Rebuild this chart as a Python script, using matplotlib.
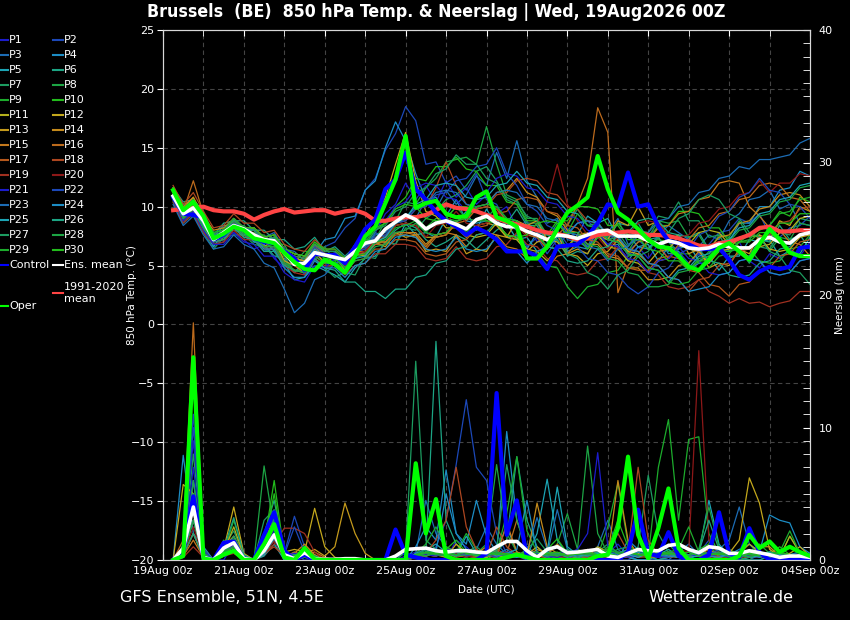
import numpy as np
import pandas as pd
import matplotlib
matplotlib.use('Agg')
import matplotlib.pyplot as plt
import matplotlib.dates as mdates
from matplotlib.lines import Line2D
from matplotlib.ticker import MultipleLocator, FixedLocator

# 6-hourly steps, 19Aug 06z .. 04Sep 00z
times = pd.date_range('2026-08-19 06:00', periods=64, freq='6h')
major_days = pd.date_range('2026-08-19', '2026-09-04', freq='2D')
all_days = pd.date_range('2026-08-19', '2026-09-04', freq='1D')

# ---- 850 hPa temperature (C) ----
oper_t = [11.4, 9.7, 10.4, 9.2, 7.3, 7.7, 8.3, 8.0,
          7.3, 7.1, 6.9, 6.1, 5.3, 4.7, 4.6, 5.5,
          5.1, 4.4, 5.8, 7.5, 8.3, 10.3, 12.3, 16.0,
          9.9, 10.3, 10.5, 9.4, 9.1, 9.2, 10.8, 11.3,
          9.1, 8.8, 8.3, 5.6, 5.6, 6.6, 8.1, 9.5,
          10.1, 10.8, 14.3, 11.5, 9.5, 8.9, 8.1, 7.2,
          6.6, 6.5, 5.8, 4.9, 4.6, 5.5, 6.5, 6.9,
          6.2, 5.5, 6.8, 8.1, 7.2, 6.1, 5.8, 5.8]
control_t = [10.8, 9.4, 9.3, 9.1, 7.2, 7.6, 8.4, 8.0,
             7.3, 7.0, 6.9, 6.2, 5.6, 4.6, 6.0, 5.9,
             5.9, 5.2, 6.6, 8.1, 8.9, 11.5, 12.3, 14.6,
             11.5, 10.6, 9.5, 8.8, 8.3, 7.6, 8.2, 7.8,
             7.2, 6.2, 6.2, 6.2, 5.8, 4.7, 6.6, 6.7,
             6.8, 7.5, 8.6, 10.2, 10.0, 12.9, 10.0, 10.2,
             8.3, 7.1, 6.9, 6.8, 6.4, 6.4, 6.5, 5.5,
             4.2, 3.8, 4.5, 4.9, 4.7, 4.9, 6.5, 6.6]
mean_t = [10.9, 9.4, 9.9, 8.8, 7.2, 7.8, 8.4, 8.1,
          7.6, 7.2, 7.1, 6.1, 5.1, 5.2, 6.1, 5.9,
          5.7, 5.5, 6.2, 6.9, 7.1, 8.1, 8.7, 9.3,
          8.9, 8.1, 8.6, 8.8, 8.5, 8.1, 8.9, 9.2,
          8.6, 8.3, 8.3, 7.9, 7.6, 7.2, 7.6, 7.5,
          7.3, 7.6, 7.9, 8.0, 7.5, 7.5, 7.5, 7.1,
          6.8, 7.1, 6.9, 6.5, 6.4, 6.5, 6.8, 6.6,
          6.5, 6.5, 7.2, 7.4, 7.0, 6.9, 7.6, 7.8]
clim_t = [9.7, 9.8, 9.9, 10.0, 9.7, 9.6, 9.6, 9.4,
          8.9, 9.3, 9.6, 9.8, 9.5, 9.6, 9.7, 9.7,
          9.4, 9.6, 9.7, 9.4, 8.8, 8.8, 9.0, 9.1,
          9.1, 9.3, 9.7, 10.2, 9.9, 9.8, 9.6, 9.3,
          9.0, 8.7, 8.5, 8.3, 8.0, 7.8, 7.7, 7.5,
          7.2, 7.3, 7.6, 7.7, 7.8, 7.9, 7.8, 7.6,
          7.6, 7.5, 7.3, 7.0, 6.7, 6.6, 6.9, 7.0,
          7.3, 7.6, 8.2, 8.3, 7.9, 7.9, 8.0, 8.0]

t_p01 = [11.2, 9.6, 10.6, 8.8, 6.6, 7.6, 7.8, 7.2, 6.4, 6.8, 5.6, 4.8, 5.4, 4.2, 5.6, 4.8,
         6.2, 5.4, 6.8, 6.0, 7.8, 9.4, 10.2, 12.0, 10.6, 11.8, 10.4, 12.2, 10.8, 11.6, 10.2, 11.0,
         9.4, 10.0, 8.2, 8.8, 7.0, 7.8, 6.6, 8.2, 7.2, 6.4, 7.6, 6.8, 7.4, 5.8, 6.6, 5.6,
         6.8, 5.6, 6.4, 7.4, 6.0, 5.2, 6.6, 6.2, 7.0, 5.4, 4.8, 6.0, 5.6, 6.4, 5.8, 7.0]
t_p02 = [11.0, 9.4, 10.2, 8.4, 6.8, 7.0, 8.4, 7.6, 7.2, 6.2, 6.6, 5.2, 5.0, 5.8, 5.4, 6.6,
         7.0, 8.2, 9.0, 11.4, 12.4, 14.8, 16.2, 18.5, 17.3, 13.6, 13.8, 12.0, 12.6, 11.4, 12.8, 10.6,
         10.2, 8.6, 8.0, 6.6, 7.4, 6.0, 7.2, 7.8, 8.6, 8.8, 8.0, 7.2, 7.6, 6.2, 7.0, 7.6,
         8.2, 7.0, 6.2, 5.2, 6.0, 6.8, 7.8, 8.0, 9.0, 8.6, 9.4, 7.6, 7.4, 8.2, 8.4, 9.2]
t_p03 = [10.6, 9.0, 9.8, 8.2, 7.6, 7.8, 9.0, 8.2, 8.2, 7.4, 7.8, 6.4, 6.2, 5.4, 6.6, 5.8,
         5.6, 4.8, 6.2, 6.6, 7.8, 7.4, 8.8, 9.4, 9.0, 10.6, 9.8, 11.4, 10.2, 11.0, 12.6, 11.8,
         14.6, 12.4, 15.6, 12.2, 10.8, 8.6, 9.0, 7.2, 7.0, 6.6, 8.4, 7.8, 9.0, 6.8, 7.2, 6.4,
         7.6, 8.4, 7.8, 7.2, 6.6, 7.6, 7.2, 8.8, 9.4, 10.6, 10.8, 11.4, 9.8, 10.2, 8.6, 8.4]
t_p04 = [11.4, 10.2, 10.4, 9.4, 7.4, 8.4, 8.4, 8.2, 7.0, 6.8, 5.8, 5.6, 4.4, 5.4, 6.0, 7.2,
         7.4, 9.0, 9.2, 11.4, 12.2, 15.0, 17.2, 15.6, 12.8, 10.6, 10.8, 9.2, 10.6, 8.8, 8.6, 8.8,
         9.0, 7.4, 7.6, 6.4, 7.8, 7.6, 8.0, 6.2, 6.6, 6.4, 8.0, 6.6, 6.8, 5.4, 6.6, 6.4,
         7.4, 6.0, 6.2, 4.6, 5.2, 5.2, 6.8, 7.0, 8.6, 8.6, 10.0, 10.0, 11.4, 11.6, 13.0, 12.6]
t_p05 = [10.8, 8.8, 9.6, 8.0, 6.6, 7.8, 8.0, 7.8, 7.0, 7.2, 6.2, 5.2, 3.8, 4.0, 5.0, 4.6,
         4.2, 3.6, 4.8, 5.6, 5.8, 7.0, 6.8, 8.6, 7.6, 7.8, 7.4, 9.0, 8.6, 9.6, 8.0, 9.8,
         8.4, 8.6, 7.2, 7.4, 6.2, 6.6, 6.4, 7.8, 7.6, 9.2, 8.6, 9.0, 7.4, 7.6, 6.6, 6.8,
         5.4, 6.6, 6.4, 6.8, 5.4, 5.8, 4.6, 5.8, 5.8, 7.2, 7.0, 7.2, 5.8, 6.2, 6.0, 7.4]
t_p06 = [11.6, 10.4, 10.6, 9.6, 7.6, 8.6, 8.8, 8.8, 8.0, 8.0, 7.2, 7.2, 6.4, 6.6, 7.4, 6.2,
         6.6, 5.8, 6.6, 5.8, 6.8, 7.2, 8.0, 8.6, 8.2, 7.2, 6.6, 7.0, 7.6, 7.2, 6.4, 7.2,
         8.0, 8.6, 9.8, 8.4, 8.4, 7.0, 7.2, 5.8, 6.2, 6.0, 7.4, 7.2, 8.6, 8.4, 8.6, 7.2,
         7.4, 6.2, 7.6, 7.4, 7.8, 6.4, 6.8, 5.6, 6.0, 5.8, 7.2, 7.0, 8.4, 7.2, 7.6, 6.4]
t_p07 = [10.4, 8.6, 9.4, 7.8, 6.4, 7.4, 7.6, 7.6, 6.8, 6.6, 5.8, 5.8, 4.4, 5.2, 5.4, 4.8,
         4.0, 4.4, 4.2, 5.8, 5.6, 7.0, 6.8, 8.2, 8.0, 9.0, 9.6, 10.6, 11.0, 11.8, 13.0, 13.4,
         12.2, 10.6, 10.2, 8.6, 8.6, 7.2, 8.6, 8.4, 9.8, 8.4, 8.6, 7.4, 7.8, 6.6, 8.0, 7.8,
         9.2, 9.0, 10.4, 8.8, 8.8, 7.4, 7.6, 6.2, 6.4, 5.2, 6.6, 6.4, 7.8, 7.6, 9.0, 8.8]
t_p08 = [11.0, 9.8, 9.8, 9.2, 7.2, 8.2, 8.4, 8.4, 7.6, 7.6, 6.8, 6.8, 5.2, 6.2, 6.2, 6.6,
         5.4, 5.8, 5.6, 7.2, 7.2, 8.8, 8.8, 10.4, 10.2, 11.6, 12.4, 13.8, 14.0, 14.2, 13.6, 16.8,
         13.6, 11.0, 10.6, 9.0, 9.0, 7.6, 7.8, 6.4, 7.6, 7.4, 8.8, 7.2, 7.4, 6.2, 7.6, 7.4,
         8.8, 8.6, 8.8, 7.4, 7.6, 6.2, 7.6, 7.4, 8.8, 7.4, 7.6, 6.2, 7.4, 7.2, 8.6, 8.4]
t_p09 = [10.6, 9.0, 9.8, 8.4, 7.2, 7.4, 8.4, 7.6, 7.4, 6.6, 6.8, 5.4, 4.6, 4.6, 6.0, 5.4,
         5.4, 4.6, 5.6, 6.0, 7.0, 7.4, 8.8, 9.2, 9.2, 8.2, 9.0, 9.0, 8.8, 7.8, 8.8, 8.8,
         8.6, 7.4, 7.2, 6.2, 6.0, 5.0, 4.8, 3.2, 2.2, 3.2, 3.4, 4.4, 4.6, 5.8, 6.0, 7.0,
         7.2, 7.0, 6.0, 6.0, 5.2, 6.2, 6.4, 7.4, 6.6, 6.4, 5.4, 5.2, 5.4, 6.4, 6.6, 7.6]
t_p10 = [11.2, 9.6, 10.6, 9.0, 7.8, 8.0, 9.0, 8.2, 8.2, 7.4, 7.6, 6.4, 6.0, 5.8, 7.0, 6.2,
         6.2, 5.4, 6.4, 6.8, 8.0, 8.6, 10.0, 10.8, 12.4, 12.2, 13.4, 13.4, 14.2, 13.2, 13.0, 11.8,
         11.8, 10.4, 10.2, 8.8, 8.8, 7.6, 8.8, 8.8, 10.0, 10.0, 9.8, 8.4, 8.4, 7.2, 7.2, 7.2,
         8.4, 8.4, 9.6, 9.6, 9.4, 8.2, 8.2, 7.0, 7.0, 7.6, 8.0, 8.4, 9.6, 9.2, 10.8, 10.4]
t_p11 = [11.0, 9.2, 10.0, 8.4, 7.4, 7.6, 8.6, 7.8, 7.8, 7.0, 7.2, 6.0, 5.6, 5.4, 6.6, 6.0,
         6.0, 5.2, 6.0, 6.2, 7.2, 7.4, 8.4, 8.6, 8.4, 7.4, 7.4, 7.6, 8.6, 7.6, 7.4, 7.6,
         8.6, 7.6, 7.4, 6.4, 6.2, 5.4, 6.4, 6.6, 7.6, 7.8, 7.6, 6.6, 6.4, 5.4, 5.2, 4.4,
         5.4, 5.6, 6.6, 6.8, 7.8, 8.0, 7.8, 6.8, 6.6, 5.6, 6.6, 6.8, 7.8, 8.0, 9.0, 9.2]
t_p12 = [11.4, 9.8, 10.8, 8.8, 7.4, 7.6, 8.6, 7.8, 7.8, 7.0, 7.2, 6.0, 5.6, 5.4, 6.6, 5.8,
         5.8, 5.2, 6.6, 7.4, 9.2, 10.8, 13.6, 16.3, 12.2, 9.6, 9.2, 8.2, 8.2, 7.4, 8.4, 8.6,
         8.4, 7.4, 7.2, 6.2, 7.0, 7.2, 7.0, 6.0, 5.8, 5.0, 6.0, 6.2, 7.2, 6.2, 6.0, 5.2,
         6.2, 6.4, 7.4, 6.4, 6.2, 5.2, 6.2, 6.4, 7.4, 7.6, 7.4, 6.4, 6.2, 6.4, 7.4, 7.6]
t_p13 = [10.8, 9.0, 9.8, 8.2, 7.2, 7.4, 8.4, 7.6, 7.6, 6.6, 7.2, 5.4, 5.0, 4.4, 6.2, 5.2,
         5.8, 4.6, 6.0, 5.8, 7.0, 6.6, 7.8, 7.4, 7.6, 6.2, 6.4, 6.2, 7.6, 6.0, 6.4, 6.2,
         7.6, 7.4, 8.8, 8.4, 8.8, 7.2, 7.6, 6.0, 6.4, 6.0, 7.6, 7.2, 8.8, 8.4, 10.0, 8.4,
         8.8, 7.2, 7.6, 6.0, 6.4, 4.8, 5.2, 5.0, 6.4, 6.0, 7.6, 7.2, 8.8, 8.4, 10.0, 9.6]
t_p14 = [11.6, 10.0, 10.8, 9.2, 8.0, 8.2, 9.0, 8.2, 8.2, 7.4, 7.6, 6.4, 6.0, 5.8, 6.8, 6.2,
         6.2, 5.4, 6.2, 6.2, 7.0, 7.0, 7.8, 7.8, 7.8, 6.8, 7.6, 7.8, 8.8, 9.0, 10.0, 10.2,
         11.2, 11.4, 12.4, 11.2, 10.8, 9.6, 9.2, 8.0, 7.8, 6.8, 6.8, 5.8, 5.6, 4.8, 4.8, 3.8,
         3.8, 4.0, 5.0, 5.2, 6.2, 6.4, 7.4, 7.6, 8.6, 8.8, 9.8, 10.0, 11.0, 11.2, 11.0, 10.0]
t_p15 = [10.8, 9.2, 10.2, 8.6, 7.4, 7.6, 8.6, 7.8, 7.8, 7.0, 7.2, 5.8, 5.2, 5.0, 6.4, 5.8,
         5.8, 5.0, 6.0, 6.2, 7.0, 7.0, 7.8, 7.8, 7.6, 6.6, 7.6, 7.8, 7.6, 6.6, 7.6, 7.8,
         7.6, 6.6, 6.4, 5.6, 5.6, 4.8, 5.8, 6.0, 7.0, 7.2, 8.2, 7.2, 7.0, 6.0, 7.0, 7.2,
         8.2, 8.4, 9.4, 9.6, 10.6, 10.8, 12.0, 12.2, 12.0, 10.0, 9.2, 8.2, 8.0, 7.0, 6.8, 5.8]
t_p16 = [11.2, 9.6, 12.2, 9.4, 7.6, 7.8, 8.8, 8.0, 8.0, 7.2, 7.4, 6.2, 5.8, 5.6, 6.8, 6.0,
         6.0, 5.2, 6.0, 6.0, 6.8, 6.8, 7.6, 7.6, 7.4, 6.4, 7.4, 7.6, 8.6, 8.8, 9.8, 10.0,
         9.8, 8.8, 8.6, 7.6, 7.4, 6.4, 7.6, 8.4, 10.2, 12.4, 18.4, 16.3, 2.7, 5.0, 6.0, 7.2,
         6.6, 5.6, 6.8, 7.2, 8.2, 8.4, 9.4, 9.6, 10.6, 10.8, 11.8, 12.0, 11.8, 10.8, 10.6, 9.6]
t_p17 = [10.6, 8.8, 9.6, 8.0, 7.0, 7.2, 8.2, 7.4, 7.4, 6.6, 6.6, 5.2, 4.6, 4.4, 5.8, 5.2,
         5.2, 4.4, 5.4, 5.6, 6.4, 6.4, 7.2, 7.2, 7.0, 6.0, 5.8, 6.0, 7.0, 7.2, 8.2, 8.4,
         9.4, 9.6, 10.6, 10.8, 10.6, 9.6, 9.4, 8.4, 8.2, 7.2, 7.0, 6.0, 5.8, 4.8, 4.6, 4.6,
         5.6, 5.8, 5.6, 4.6, 4.4, 3.4, 3.2, 2.4, 3.4, 3.6, 4.6, 4.8, 5.8, 6.0, 7.0, 7.2]
t_p18 = [11.8, 10.2, 11.2, 9.6, 8.2, 8.4, 9.4, 8.6, 8.6, 7.8, 8.0, 6.8, 6.4, 6.2, 7.2, 6.4,
         6.4, 5.6, 6.4, 6.4, 7.4, 7.6, 8.6, 8.8, 9.8, 10.0, 11.6, 13.8, 11.8, 10.2, 9.8, 10.0,
         11.0, 11.2, 12.2, 12.4, 12.2, 11.2, 11.0, 10.0, 9.8, 8.8, 8.6, 7.6, 7.4, 6.4, 6.2, 5.2,
         5.0, 4.0, 3.8, 2.8, 3.8, 4.0, 5.0, 5.2, 6.2, 6.4, 7.4, 7.6, 8.6, 8.8, 9.8, 10.0]
t_p19 = [10.4, 8.6, 9.4, 7.8, 6.8, 7.0, 8.0, 7.2, 7.2, 6.4, 6.4, 5.0, 4.4, 4.2, 5.6, 5.0,
         5.0, 4.2, 5.0, 5.2, 6.0, 6.0, 6.8, 6.8, 6.6, 5.6, 5.4, 5.6, 6.6, 5.6, 5.4, 5.6,
         6.6, 6.8, 7.8, 6.8, 6.6, 5.6, 5.4, 4.4, 4.2, 4.4, 5.4, 5.6, 6.6, 5.6, 5.4, 4.4,
         4.2, 3.2, 3.0, 3.2, 3.8, 2.8, 2.4, 1.8, 2.2, 1.8, 1.9, 1.5, 1.8, 2.0, 2.8, 2.8]
t_p20 = [11.0, 9.4, 10.2, 8.6, 7.4, 7.6, 8.6, 7.8, 7.8, 7.0, 7.2, 5.8, 5.2, 5.0, 6.4, 5.8,
         5.8, 5.0, 6.0, 6.2, 7.2, 7.4, 8.4, 8.6, 8.4, 7.4, 8.4, 8.6, 9.6, 8.6, 8.4, 8.6,
         9.6, 8.6, 8.4, 7.4, 8.6, 10.4, 13.6, 10.2, 8.8, 7.6, 7.4, 6.4, 7.4, 7.6, 8.6, 8.8,
         8.6, 7.6, 7.4, 7.6, 8.6, 8.8, 9.8, 10.0, 11.0, 11.2, 12.2, 11.2, 12.0, 12.0, 12.8, 12.6]
t_p21 = [10.6, 8.8, 9.6, 8.0, 6.8, 6.8, 7.8, 7.0, 6.8, 5.8, 5.8, 4.4, 3.8, 3.6, 5.0, 4.8,
         5.6, 5.6, 6.8, 7.2, 8.4, 8.8, 10.0, 10.4, 11.6, 12.0, 11.8, 10.8, 10.6, 9.6, 10.8, 11.2,
         12.4, 12.8, 12.6, 11.6, 11.4, 10.4, 10.2, 9.2, 9.0, 8.0, 7.8, 6.8, 6.6, 5.6, 5.4, 4.4,
         5.4, 5.6, 6.6, 5.6, 5.4, 4.4, 4.2, 4.4, 5.4, 5.6, 5.4, 4.4, 4.2, 4.4, 5.4, 5.6]
t_p22 = [11.4, 9.8, 10.6, 9.0, 7.8, 8.0, 9.0, 8.2, 8.0, 7.2, 7.4, 6.0, 5.4, 5.2, 6.6, 6.0,
         6.0, 5.2, 6.2, 6.4, 7.4, 7.6, 8.6, 8.8, 9.8, 10.0, 11.0, 11.2, 12.2, 12.4, 13.4, 13.6,
         15.0, 12.8, 11.8, 10.2, 9.6, 8.4, 8.0, 6.8, 6.6, 5.6, 5.4, 4.4, 4.2, 3.2, 2.6, 3.2,
         4.4, 4.8, 6.0, 6.4, 7.6, 8.0, 9.2, 9.6, 10.8, 11.2, 12.4, 11.4, 11.2, 10.2, 10.0, 9.0]
t_p23 = [10.2, 8.4, 9.2, 7.6, 6.4, 6.6, 7.6, 6.8, 6.4, 5.2, 4.8, 3.0, 1.0, 1.8, 3.8, 4.2,
         5.2, 5.4, 6.4, 6.6, 7.6, 7.8, 8.8, 9.0, 10.0, 10.2, 11.2, 11.4, 11.2, 10.2, 10.0, 10.2,
         11.2, 11.4, 11.2, 10.2, 10.0, 9.0, 8.8, 7.8, 7.6, 6.6, 6.4, 5.4, 6.4, 6.6, 7.6, 7.8,
         8.8, 9.0, 10.0, 10.2, 11.2, 11.4, 12.4, 12.6, 13.4, 13.2, 14.0, 14.0, 14.2, 14.4, 15.4, 15.8]
t_p24 = [11.0, 9.2, 10.0, 8.4, 7.2, 7.4, 8.4, 7.6, 7.4, 6.4, 6.4, 4.8, 4.0, 4.0, 5.4, 4.8,
         4.8, 4.0, 5.0, 5.2, 6.2, 6.4, 7.4, 7.6, 7.4, 6.4, 6.2, 6.4, 7.4, 6.4, 6.2, 6.4,
         7.4, 6.4, 6.2, 5.2, 6.2, 6.4, 7.4, 7.6, 8.6, 8.8, 8.6, 7.6, 7.4, 6.4, 6.2, 5.2,
         5.0, 4.0, 3.8, 2.8, 3.0, 3.2, 4.2, 4.4, 5.4, 5.6, 5.4, 4.4, 4.2, 4.4, 5.4, 5.6]
t_p25 = [11.2, 9.4, 10.4, 8.8, 7.6, 7.8, 8.8, 8.0, 8.0, 7.2, 7.4, 6.0, 5.4, 5.2, 6.4, 5.8,
         5.8, 4.8, 5.6, 5.8, 7.0, 7.4, 8.6, 9.0, 10.2, 10.6, 11.8, 12.0, 11.8, 10.8, 10.6, 10.8,
         11.8, 12.0, 13.0, 12.0, 11.8, 10.8, 10.6, 9.6, 9.4, 8.4, 8.2, 7.2, 7.0, 6.0, 5.8, 4.8,
         4.6, 3.6, 4.6, 4.8, 5.8, 6.0, 7.0, 7.2, 8.2, 8.4, 9.4, 9.6, 10.6, 10.8, 11.8, 12.0]
t_p26 = [10.8, 9.0, 9.8, 8.2, 7.0, 7.2, 8.2, 7.4, 7.2, 6.2, 6.2, 5.0, 4.6, 4.4, 5.6, 4.8,
         4.6, 3.6, 3.6, 2.8, 2.8, 2.2, 3.0, 3.0, 4.0, 4.2, 5.2, 5.4, 6.4, 6.6, 7.6, 7.8,
         8.8, 9.0, 8.8, 7.8, 7.6, 6.6, 6.4, 5.4, 5.2, 5.4, 6.4, 6.6, 7.6, 7.8, 8.8, 9.0,
         8.8, 7.8, 7.6, 6.6, 6.4, 5.4, 5.2, 4.2, 4.0, 4.2, 5.2, 5.4, 6.4, 6.6, 7.6, 7.8]
t_p27 = [11.4, 9.6, 10.4, 8.8, 7.6, 7.8, 8.8, 8.0, 8.0, 7.2, 7.4, 6.2, 5.8, 5.6, 6.8, 6.2,
         6.2, 5.4, 6.4, 6.8, 8.0, 8.4, 9.6, 10.0, 11.2, 11.6, 12.8, 13.2, 14.4, 13.6, 13.6, 12.4,
         12.0, 10.8, 10.4, 9.2, 8.8, 7.6, 7.2, 6.0, 5.6, 4.4, 4.0, 3.0, 4.2, 4.6, 5.8, 6.2,
         7.4, 7.8, 9.0, 9.4, 10.6, 11.0, 10.6, 9.4, 9.0, 7.8, 7.4, 6.2, 5.8, 4.6, 4.4, 3.4]
t_p28 = [10.6, 9.0, 9.8, 8.2, 7.2, 7.4, 8.4, 7.6, 7.4, 6.6, 6.6, 5.2, 4.6, 4.4, 5.8, 5.2,
         5.2, 4.4, 5.4, 5.6, 6.6, 6.8, 7.8, 8.0, 8.6, 7.8, 8.8, 9.0, 10.0, 9.0, 8.8, 9.0,
         10.0, 9.0, 8.8, 7.8, 7.6, 6.6, 7.6, 7.8, 7.8, 6.8, 6.6, 5.6, 5.4, 4.4, 4.2, 3.2,
         3.2, 3.4, 4.4, 4.6, 5.6, 5.8, 6.8, 7.0, 8.0, 8.2, 9.2, 9.4, 10.4, 10.6, 11.6, 11.8]
t_p29 = [11.0, 9.4, 10.2, 8.6, 7.4, 7.6, 8.6, 7.8, 7.8, 7.0, 7.2, 5.8, 5.2, 5.0, 6.2, 5.6,
         5.6, 4.8, 5.8, 6.0, 7.0, 7.2, 8.2, 8.4, 8.8, 7.8, 7.6, 7.8, 8.8, 9.0, 10.0, 10.2,
         10.0, 9.0, 8.8, 7.8, 7.6, 6.6, 7.6, 7.8, 9.4, 8.4, 8.2, 7.2, 7.0, 6.0, 5.8, 4.8,
         4.6, 3.6, 3.4, 3.6, 4.6, 4.8, 5.8, 6.0, 7.0, 7.2, 8.2, 8.4, 9.4, 9.6, 10.6, 10.8]
t_p30 = [11.6, 9.8, 10.6, 9.0, 7.8, 8.0, 9.0, 8.2, 8.2, 7.4, 7.6, 6.4, 6.0, 5.8, 7.0, 6.4,
         6.4, 5.6, 6.6, 7.0, 8.2, 8.6, 9.8, 10.2, 10.0, 9.0, 8.8, 9.0, 10.0, 10.0, 9.8, 8.8,
         8.6, 7.6, 7.4, 7.6, 8.6, 8.8, 8.6, 7.6, 7.4, 6.4, 7.4, 7.6, 8.6, 7.6, 7.4, 6.4,
         6.2, 5.4, 5.4, 4.6, 5.4, 5.4, 6.2, 6.2, 7.0, 7.0, 7.8, 7.8, 8.6, 8.6, 9.4, 9.4]

# ---- 6-hourly precipitation (mm) ----
oper_r = [0, 0.3, 15.3, 0.1, 0, 0.4, 0.7, 0, 0, 1.2, 2.7, 0.2, 0, 0.9, 0.05, 0,
          0, 0, 0, 0, 0, 0, 0, 0, 7.3, 2.0, 4.6, 0.3, 0, 0, 0, 0,
          0, 0.2, 0.4, 0.2, 0, 0, 0, 0, 0, 0, 0.3, 0.4, 2.4, 7.8, 1.9, 0.1,
          2.4, 5.4, 0.9, 0, 0, 0, 0, 0, 0.3, 1.9, 0.9, 1.4, 0.6, 1.0, 0.6, 0.3]
control_r = [0, 0.7, 4.8, 0.2, 0, 1.3, 1.4, 0, 0, 1.9, 3.6, 0.7, 0, 0.4, 0, 0,
             0, 0, 0, 0, 0, 0, 2.3, 0.4, 0.2, 0, 0, 0, 0, 0, 0, 0.5,
             12.6, 1.9, 4.5, 0.2, 0, 0, 0, 0, 0, 0, 0, 0, 0, 0.6, 3.8, 0.5,
             0.3, 2.1, 0.3, 0, 0, 0.4, 3.6, 0.5, 0.2, 2.4, 0.6, 0, 0.2, 0, 0, 0]
mean_r = [0, 0.9, 4.0, 0.2, 0, 0.9, 1.3, 0.1, 0, 0.7, 1.9, 0.4, 0.1, 0.55, 0.1, 0.05,
          0.05, 0.1, 0.1, 0, 0, 0, 0.3, 0.8, 0.85, 0.9, 0.7, 0.6, 0.7, 0.7, 0.6, 0.55,
          1.0, 1.4, 1.4, 0.7, 0.2, 0.8, 1.0, 0.55, 0.6, 0.7, 0.8, 0.3, 0.2, 0.5, 0.8, 0.7,
          0.7, 1.1, 1.2, 0.8, 0.55, 1.0, 0.9, 0.5, 0.5, 0.7, 0.55, 0.4, 0.2, 0.3, 0.3, 0.2]

r_p01 = [0, 1.0, 9.0, 0.5, 0, 0, 1.2, 0.2, 0, 0.6, 2.5, 0.3, 0.4, 0, 0, 0,
         0, 0, 0, 0, 0, 0, 0, 0.3, 0.6, 0.2, 0, 0, 1.5, 1.0, 0.3, 0,
         0, 0.4, 0.5, 0.2, 0, 0, 0.3, 0.8, 0.2, 0, 0, 0.5, 1.2, 0.3, 0, 0,
         0, 0.4, 0.2, 0, 0, 0.3, 0.8, 0.2, 0, 0, 0.4, 0.2, 0, 0, 0.2, 0]
r_p02 = [0, 0.6, 11.0, 0.4, 0, 0.8, 1.0, 0, 0, 1.5, 3.0, 0.5, 3.3, 1.0, 0, 0,
         0, 0, 0, 0, 0, 0, 0.2, 0.5, 0.3, 0.4, 1.0, 3.0, 7.2, 12.1, 7.0, 6.0,
         2.0, 0.5, 0.3, 0, 0, 0, 0.2, 0.3, 0.5, 0.8, 0.2, 0, 0, 0, 0.4, 0.6,
         0.2, 0, 0, 0.3, 0.5, 1.5, 0.5, 0.2, 0, 0, 0, 0.3, 0.5, 0.2, 0, 0]
r_p03 = [0, 0.3, 6.0, 0.8, 0, 0.5, 1.8, 0.2, 0, 0.8, 2.0, 0.2, 0.6, 0.3, 0, 0,
         0, 0, 0, 0, 0, 0, 0, 0, 0.5, 4.5, 2.0, 1.0, 0.6, 0.3, 0.8, 2.5,
         1.2, 0.4, 0.2, 0.6, 3.2, 0.8, 0.3, 0, 0, 0.4, 1.0, 3.0, 0.8, 0.2, 0, 0,
         0, 0, 0.6, 1.2, 0.4, 0.2, 0.8, 1.5, 4.0, 1.2, 0.4, 0.2, 0, 0, 0, 0]
r_p04 = [0, 7.9, 2.0, 1.0, 0, 0.4, 0.8, 0, 0, 0.5, 1.5, 0, 0.3, 0.8, 0.2, 0,
         0, 0, 0, 0, 0, 0, 0, 0, 1.0, 2.5, 1.5, 6.8, 2.0, 1.2, 4.5, 1.8,
         0.6, 9.7, 3.0, 1.0, 0.4, 0.2, 0, 0, 0.6, 0.3, 0, 0, 0, 1.5, 0.8, 0.3,
         0, 0.2, 0.6, 0, 0, 0, 0.2, 0.4, 0.8, 1.2, 0.6, 3.4, 3.0, 2.8, 1.0, 0.5]
r_p05 = [0, 0.5, 3.0, 0.2, 0, 0.3, 0.6, 0, 0, 0.3, 1.2, 0, 0, 0.2, 0, 0,
         0, 0, 0, 0, 0, 0, 0, 0, 0.3, 0.8, 1.2, 0.6, 0.4, 1.8, 0.5, 0.2,
         0.8, 2.5, 0.6, 0.3, 2.0, 6.1, 1.5, 0.4, 0.2, 0, 0.3, 0.8, 0.4, 0.2, 0, 0,
         0.4, 0.8, 0.3, 0, 0.5, 4.5, 1.2, 0.3, 0, 0.2, 0.4, 0.6, 0.3, 0, 0, 0.2]
r_p06 = [0, 0.2, 5.0, 0.3, 0, 0.6, 1.5, 0.2, 0, 2.0, 4.5, 0.4, 0.2, 1.0, 0.3, 0,
         0, 0, 0, 0, 0, 0, 0, 0, 0.4, 0.6, 16.5, 3.0, 1.2, 0.5, 0.3, 0,
         0.6, 1.5, 7.8, 3.0, 1.0, 0.4, 0.2, 0, 0.3, 0.6, 0.3, 0, 0, 0.4, 0.8, 0.3,
         0, 0.2, 0.5, 0.2, 0, 0, 0.3, 0.6, 0.2, 0, 0, 0.3, 0.2, 0, 0, 0]
r_p07 = [0, 0.3, 8.0, 0.6, 0, 1.0, 2.2, 0.3, 0, 3.0, 3.8, 0.2, 0.5, 0.3, 0, 0,
         0, 0, 0, 0, 0, 0, 0, 0.6, 15.0, 1.5, 0.8, 0.4, 0.3, 0.6, 1.0, 0.4,
         0.2, 0.5, 0.3, 0.8, 1.6, 0.6, 0.2, 0, 0, 0.3, 0.6, 1.2, 0.5, 0.3, 1.0, 6.4,
         2.0, 0.6, 0.2, 0, 0, 0.3, 0.5, 0.2, 0, 0, 0.5, 0.3, 0.2, 0, 0.2, 0]
r_p08 = [0, 0.5, 4.0, 0.3, 0, 0.4, 1.0, 0, 0, 7.1, 2.2, 0.3, 0, 0.2, 0.4, 0,
         0, 0, 0, 0, 0, 0, 0, 0, 0.2, 0.5, 0.8, 0.4, 0.6, 0.2, 0.5, 1.2,
         7.2, 2.0, 0.6, 0.3, 0.2, 0.5, 1.2, 3.5, 0.8, 8.6, 2.0, 0.5, 0.3, 0.2, 0.6, 1.0,
         0.5, 1.2, 0.4, 0.2, 0.5, 1.0, 0.4, 0.2, 0, 0.3, 0.6, 0.3, 0.2, 1.8, 0.6, 0.2]
r_p09 = [0, 0.3, 2.0, 0.2, 0, 0.5, 3.0, 0.4, 0, 1.0, 2.0, 0.2, 0, 0.4, 0.2, 0,
         0, 0, 0, 0, 0, 0, 0, 0, 0.5, 1.2, 2.5, 1.0, 0.6, 2.0, 0.8, 0.3,
         0.5, 3.5, 7.8, 2.2, 0.6, 0.3, 0.2, 0.4, 0.8, 0.5, 0.3, 2.5, 5.8, 1.2, 0.5, 0.3,
         7.0, 10.6, 3.0, 9.1, 9.3, 2.0, 0.5, 0.3, 0.2, 0.6, 1.2, 0.5, 0.3, 0.2, 0.4, 0.2]
r_p10 = [0, 0.4, 6.0, 0.5, 0, 1.5, 0.8, 0, 0, 1.2, 5.0, 0.3, 0.2, 0.8, 0.3, 0,
         0, 0, 0, 0, 0, 0, 0, 0, 0.3, 0.6, 0.4, 0.8, 1.5, 0.6, 0.3, 0.2,
         0.4, 0.2, 0.6, 0.3, 0.2, 0.8, 1.6, 0.5, 0.3, 0.2, 0.5, 0.8, 3.0, 1.0, 0.3, 0.2,
         0.5, 0.6, 0.3, 0.2, 0.8, 1.2, 3.5, 0.8, 0.4, 0.2, 0.3, 0.5, 1.0, 0.4, 0.6, 0.3]
r_p11 = [0, 0.8, 3.0, 0.2, 0, 0.6, 2.5, 0.3, 0, 0.4, 1.5, 0.2, 0, 0.3, 0, 0,
         0, 0, 0, 0, 0, 0, 0, 0, 0.2, 0.4, 0.3, 0.8, 0.5, 0.3, 0.2, 0.6,
         0.3, 0.2, 0.4, 0.6, 0.3, 0.2, 0.5, 0.3, 0.2, 0.4, 1.0, 0.6, 0.3, 0.2, 0.4, 0.3,
         0.2, 0.5, 0.3, 0.2, 0.4, 0.6, 0.3, 0.2, 0.5, 1.2, 0.6, 0.3, 0.2, 1.8, 0.5, 0.2]
r_p12 = [0, 5.7, 5.0, 0.4, 0, 0.8, 4.0, 0.5, 0, 0.5, 2.8, 0.6, 0.8, 0.6, 3.9, 1.0,
         0.2, 0, 0, 0, 0, 0, 0, 0, 0.3, 0.5, 0.4, 0.2, 1.2, 0.5, 0.3, 0.2,
         0.6, 0.3, 0.2, 0.4, 1.0, 0.3, 0.2, 0.5, 0.3, 0.2, 0.6, 0.4, 0.2, 0.3, 0.5, 0.2,
         0.4, 0.6, 0.3, 0.2, 0.4, 0.8, 0.3, 0.5, 1.5, 6.2, 4.3, 0.8, 0.3, 0.5, 1.0, 0.3]
r_p13 = [0, 0.4, 2.0, 0.2, 0, 1.0, 1.8, 0.3, 0, 0.6, 2.0, 0.3, 0.2, 0.5, 0.8, 0.3,
         1.0, 4.3, 2.0, 0.5, 0, 0, 0, 0, 0.2, 0.3, 0.5, 0.4, 0.6, 0.3, 0.2, 0.4,
         0.3, 0.6, 0.4, 0.2, 0.8, 0.5, 0.3, 0.2, 0.4, 0.3, 0.2, 0.5, 0.3, 0.2, 0.4, 0.6,
         0.3, 0.2, 0.4, 0.6, 0.3, 0.2, 0.5, 0.3, 0.2, 0.4, 1.0, 1.0, 0.3, 0.2, 0.4, 0.2]
r_p14 = [0, 0.6, 4.0, 0.5, 0, 0.4, 1.2, 0.2, 0, 1.0, 3.5, 0.3, 0.5, 1.2, 0.4, 0,
         0, 0, 0, 0, 0, 0, 0, 0, 0.3, 0.5, 0.6, 0.4, 0.8, 0.3, 0.5, 1.0,
         0.6, 0.4, 0.3, 0.2, 4.3, 1.0, 0.5, 0.3, 0.6, 0.8, 0.3, 0.2, 6.0, 1.5, 0.4, 0.2,
         0.3, 0.5, 0.2, 0.3, 0.6, 0.4, 0.2, 0.3, 0.5, 0.3, 0.2, 0.4, 0.2, 0, 0, 0]
r_p15 = [0, 0.3, 1.5, 0.2, 0, 0.3, 0.8, 0, 0, 0.5, 1.8, 0.2, 0.3, 0.4, 0.6, 0.2,
         0, 0, 0, 0, 0, 0, 0, 0, 0.2, 0.4, 0.3, 0.6, 0.4, 0.2, 0.8, 0.3,
         0.2, 2.8, 0.6, 0.3, 0.2, 0.4, 1.2, 0.5, 0.3, 0.2, 0.4, 0.6, 0.3, 0.2, 0.4, 0.3,
         0.6, 0.4, 0.2, 0.3, 0.5, 0.8, 0.4, 0.2, 0.3, 0.6, 0.4, 0.2, 0.3, 0.2, 0, 0]
r_p16 = [0, 1.5, 17.9, 0.8, 0, 0.5, 1.2, 0.3, 0, 0.8, 2.5, 0.2, 0.6, 0.3, 0.2, 0,
         0, 0, 0, 0, 0, 0, 0, 0, 0.4, 0.3, 0.6, 0.8, 0.5, 0.3, 0.6, 0.4,
         0.2, 0.5, 3.0, 0.8, 0.3, 0.2, 0.4, 0.6, 0.3, 0.5, 0.2, 0.4, 0.3, 0.6, 0.2, 0.3,
         0.5, 0.3, 0.2, 0.4, 0.6, 0.3, 0.2, 0.4, 0.3, 0.2, 0.5, 0.3, 0.2, 0, 0, 0]
r_p17 = [0, 0.4, 3.0, 0.3, 0, 0.6, 1.0, 0, 0, 0.8, 1.5, 0.4, 0.2, 0.6, 0.3, 0,
         0, 0, 0, 0, 0, 0, 0, 0, 0.2, 0.4, 0.3, 0.6, 0.2, 0.4, 0.3, 0.5,
         0.8, 0.4, 0.2, 0.3, 0.6, 0.4, 0.2, 0.3, 0.5, 0.3, 0.2, 0.4, 0.3, 0.6, 0.4, 0.2,
         0.3, 0.5, 0.2, 0.4, 0.3, 0.2, 0.6, 0.3, 0.2, 0.4, 0.3, 0.2, 0.5, 0.3, 0.2, 0]
r_p18 = [0, 0.3, 2.0, 0.2, 0, 0.4, 0.6, 0, 0, 0.5, 1.0, 0.3, 0.2, 0.4, 0.2, 0,
         0, 0, 0, 0, 0, 0, 0, 0, 0.3, 0.5, 1.5, 3.0, 7.0, 2.5, 0.8, 0.3,
         2.5, 1.0, 0.4, 0.2, 0.3, 0.6, 0.4, 0.2, 0.3, 0.2, 0.5, 0.8, 2.0, 0.6, 7.0, 1.5,
         0.4, 0.2, 0.3, 0.6, 0.4, 0.2, 0.3, 0.5, 0.2, 0.4, 0.3, 0.2, 0.5, 0.3, 0.2, 0]
r_p19 = [0, 0.2, 1.0, 0.2, 0, 0.3, 0.5, 0, 0, 0.4, 1.2, 2.4, 2.4, 2.0, 0.6, 0,
         0, 0, 0, 0, 0, 0, 0, 0, 0.2, 0.3, 0.5, 0.4, 0.6, 0.3, 0.2, 0.4,
         0.3, 0.6, 0.4, 0.2, 0.3, 0.5, 0.2, 0.4, 0.6, 0.3, 0.2, 0.4, 0.3, 0.5, 0.2, 0.3,
         0.4, 0.6, 0.3, 0.2, 0.5, 0.3, 0.4, 0.2, 0.3, 0.2, 0.4, 0.3, 0.2, 0, 0, 0]
r_p20 = [0, 0.4, 2.5, 0.3, 0, 0.5, 0.8, 0, 0, 0.6, 1.4, 0.3, 0.2, 0.4, 0.2, 0,
         0, 0, 0, 0, 0, 0, 0, 0, 0.3, 0.4, 0.6, 0.3, 0.5, 0.2, 0.4, 0.3,
         0.6, 0.4, 0.2, 0.3, 0.5, 0.4, 0.3, 0.2, 0.4, 0.3, 0.5, 0.2, 0.6, 0.4, 0.3, 0.5,
         0.2, 0.4, 0.8, 0.6, 15.8, 1.5, 0.4, 0.2, 0.3, 0.5, 0.2, 0.4, 0.3, 0.2, 0, 0]
r_p21 = [0, 0.4, 7.0, 0.6, 0, 0.5, 1.2, 0.2, 0, 0.6, 2.2, 0.3, 0.5, 0.3, 0.2, 0,
         0, 0, 0, 0, 0, 0, 0, 0, 0.2, 0.4, 0.3, 0.5, 0.8, 0.4, 0.6, 0.3,
         0.5, 0.3, 0.2, 0.4, 0.6, 0.3, 0.2, 0.5, 0.8, 2.0, 8.1, 1.0, 0.3, 0.2, 0.4, 0.6,
         0.3, 0.2, 0.5, 0.4, 0.3, 0.6, 0.4, 0.2, 0.5, 0.3, 0.2, 0.4, 0.3, 0.2, 0, 0]
r_p22 = [0, 0.6, 10.0, 0.8, 0, 0.4, 1.5, 0.3, 0, 0.8, 3.0, 0.4, 2.5, 0.6, 0.2, 0,
         0, 0, 0, 0, 0, 0, 0, 0, 0.3, 0.5, 0.4, 0.8, 0.6, 0.3, 0.5, 0.4,
         0.2, 0.6, 0.4, 0.3, 0.5, 0.2, 0.4, 0.6, 0.3, 0.5, 0.2, 0.4, 0.6, 0.3, 0.8, 0.4,
         0.2, 0.5, 0.3, 0.6, 0.4, 0.2, 0.5, 0.3, 0.4, 0.2, 0.3, 0.5, 0.2, 0, 0, 0]
r_p23 = [0, 0.3, 4.0, 0.4, 0, 0.3, 0.8, 0, 0, 0.5, 1.6, 0.2, 0.4, 0.3, 0.2, 0,
         0, 0, 0, 0, 0, 0, 0, 0, 0.4, 0.6, 0.5, 0.8, 0.4, 0.6, 0.3, 0.5,
         0.4, 0.8, 0.3, 0.5, 0.6, 0.4, 3.8, 0.8, 0.4, 0.3, 0.6, 0.4, 0.2, 0.5, 0.3, 0.6,
         0.4, 0.2, 0.6, 0.3, 0.5, 0.4, 0.8, 0.3, 0.2, 0.5, 0.6, 0.3, 0.2, 0.4, 0.6, 0.2]
r_p24 = [0, 0.5, 3.0, 0.3, 0, 0.6, 1.0, 0, 0, 0.6, 2.8, 0.3, 0.2, 0.5, 0.3, 0,
         0, 0, 0, 0, 0, 0, 0, 0, 0.5, 0.8, 0.6, 5.0, 2.0, 0.8, 0.4, 0.6,
         0.3, 0.5, 0.8, 4.5, 0.6, 0.3, 0.5, 0.2, 0.4, 0.6, 0.3, 0.5, 0.2, 0.4, 0.6, 0.3,
         0.5, 0.3, 0.2, 0.4, 0.6, 0.3, 0.2, 0.4, 0.3, 0.5, 0.2, 0.4, 0.3, 0.2, 0.4, 0.2]
r_p25 = [0, 0.6, 5.0, 0.3, 0, 0.4, 0.6, 0, 0, 0.4, 1.8, 0.2, 0.3, 0.5, 0.2, 0,
         0, 0, 0, 0, 0, 0, 0, 0, 0.4, 0.3, 0.6, 0.5, 0.3, 0.8, 0.4, 0.3,
         0.6, 0.4, 0.2, 0.5, 0.3, 0.6, 5.5, 1.0, 0.4, 0.3, 0.5, 0.6, 0.3, 0.4, 0.2, 0.5,
         0.3, 0.6, 0.4, 0.2, 0.3, 0.5, 0.4, 0.3, 0.5, 0.2, 0.3, 0.6, 0.4, 0.2, 0.3, 0.2]
r_p26 = [0, 0.4, 2.0, 0.2, 0, 0.8, 3.2, 0.4, 0, 1.2, 2.5, 0.4, 0.3, 0.6, 0.2, 0,
         0, 0, 0, 0, 0, 0, 0, 0, 0.3, 0.6, 0.8, 0.5, 0.4, 0.7, 0.3, 0.5,
         0.6, 0.3, 0.5, 0.2, 0.4, 0.6, 0.3, 0.5, 0.2, 0.4, 0.6, 0.3, 0.5, 0.8, 0.4, 0.6,
         0.3, 0.5, 0.2, 0.4, 0.6, 3.0, 0.8, 0.4, 0.3, 0.6, 0.4, 0.2, 0.5, 0.3, 0.2, 0]
r_p27 = [0, 0.3, 6.0, 0.5, 0, 0.6, 1.8, 0.2, 0, 0.8, 3.2, 0.2, 0.4, 0.5, 0.3, 0,
         0, 0, 0, 0, 0, 0, 0, 0, 0.4, 0.8, 0.5, 0.6, 0.3, 0.4, 0.6, 0.5,
         0.8, 7.2, 3.0, 0.6, 0.4, 0.3, 0.5, 0.8, 0.4, 0.6, 0.3, 0.5, 0.8, 1.0, 0.4, 0.3,
         0.5, 0.6, 0.4, 0.3, 0.8, 0.4, 0.6, 0.5, 0.3, 0.4, 0.6, 0.3, 0.5, 0.2, 0.3, 0.2]
r_p28 = [0, 0.4, 3.0, 0.3, 0, 0.5, 1.4, 0.2, 0, 0.6, 2.0, 0.3, 0.2, 0.4, 0.2, 0,
         0, 0, 0, 0, 0, 0, 0, 0, 0.3, 0.5, 0.4, 0.3, 0.6, 0.8, 0.4, 0.3,
         0.5, 0.3, 0.4, 0.6, 0.3, 0.5, 0.4, 0.3, 0.6, 0.4, 0.3, 1.0, 0.6, 0.5, 0.4, 0.3,
         0.5, 0.4, 0.6, 0.3, 0.8, 4.0, 1.0, 0.3, 0.4, 0.2, 0.5, 0.3, 0.6, 0.4, 0.2, 0]
r_p29 = [0, 0.5, 4.0, 0.4, 0, 0.6, 1.0, 0, 0, 0.8, 2.8, 0.4, 0.3, 0.6, 0.2, 0,
         0, 0, 0, 0, 0, 0, 0, 0, 0.4, 0.3, 0.6, 0.5, 0.4, 0.6, 0.5, 0.4,
         0.6, 0.4, 0.3, 0.5, 0.6, 0.4, 0.3, 0.6, 0.4, 0.5, 0.3, 0.8, 0.5, 0.6, 0.4, 0.5,
         0.3, 0.6, 0.8, 2.5, 0.6, 0.4, 0.5, 0.3, 0.6, 0.4, 0.3, 0.5, 0.6, 2.2, 0.5, 0.3]
r_p30 = [0, 0.5, 5.0, 0.5, 0, 0.8, 1.6, 0.2, 0, 1.2, 6.0, 0.4, 0.3, 0.5, 0.2, 0,
         0, 0, 0, 0, 0, 0, 0, 0, 0.4, 0.6, 0.5, 0.4, 0.8, 0.5, 0.3, 0.6,
         0.4, 0.5, 0.3, 0.6, 0.4, 0.5, 0.6, 0.3, 0.5, 0.6, 0.4, 0.5, 0.3, 0.6, 0.4, 0.3,
         0.6, 0.5, 0.4, 0.6, 0.3, 0.5, 0.4, 0.6, 0.3, 0.5, 0.4, 0.3, 0.6, 0.4, 0.2, 0]

member_names = ['P%d' % i for i in range(1, 31)]
base_colors = ['#1c1ccc', '#1c48b8', '#1c6cb4', '#1c8cc4', '#1ca4b4',
               '#1ca484', '#1c9c60', '#1ca444', '#1cac2c', '#22bb1c',
               '#b4b01c', '#c4a81c', '#c49a1c', '#c48a1c', '#c4781c',
               '#bc6a1c', '#b4581c', '#ac4620', '#a03020', '#8c1818']
member_colors = base_colors + base_colors[:10]

members_t = [t_p01, t_p02, t_p03, t_p04, t_p05, t_p06, t_p07, t_p08, t_p09, t_p10,
             t_p11, t_p12, t_p13, t_p14, t_p15, t_p16, t_p17, t_p18, t_p19, t_p20,
             t_p21, t_p22, t_p23, t_p24, t_p25, t_p26, t_p27, t_p28, t_p29, t_p30]
members_r = [r_p01, r_p02, r_p03, r_p04, r_p05, r_p06, r_p07, r_p08, r_p09, r_p10,
             r_p11, r_p12, r_p13, r_p14, r_p15, r_p16, r_p17, r_p18, r_p19, r_p20,
             r_p21, r_p22, r_p23, r_p24, r_p25, r_p26, r_p27, r_p28, r_p29, r_p30]

c_oper = '#00ff00'
c_ctrl = '#0000ff'
c_clim = '#ff4444'

fig = plt.figure(figsize=(8.5, 6.2), dpi=100, facecolor='black')
ax = fig.add_axes([163 / 850, 60 / 620, 647 / 850, 530 / 620])
ax.set_facecolor('black')
ax2 = ax.twinx()

for tt, c in zip(members_t, member_colors):
    ax.plot(times, tt, color=c, lw=0.9)
ax.plot(times, clim_t, color=c_clim, lw=3)
ax.plot(times, control_t, color=c_ctrl, lw=3)
ax.plot(times, mean_t, color='white', lw=2.6)
ax.plot(times, oper_t, color=c_oper, lw=3)

for rr, c in zip(members_r, member_colors):
    ax2.plot(times, rr, color=c, lw=0.9)
ax2.plot(times, control_r, color=c_ctrl, lw=3)
ax2.plot(times, mean_r, color='white', lw=2.6)
ax2.plot(times, oper_r, color=c_oper, lw=3)

ax.set_xlim(all_days[0], all_days[-1])
ax.set_ylim(-20, 25)
ax2.set_ylim(0, 40)

ax.xaxis.set_major_locator(FixedLocator(mdates.date2num(major_days)))
ax.xaxis.set_minor_locator(FixedLocator(mdates.date2num(all_days)))
ax.xaxis.set_major_formatter(mdates.DateFormatter('%d%b %Hz'))
ax.yaxis.set_major_locator(MultipleLocator(5))
ax2.yaxis.set_major_locator(MultipleLocator(10))
ax2.yaxis.set_minor_locator(MultipleLocator(1))

gl = dict(color='#444444', linestyle=(0, (4, 3)), lw=0.8)
ax.grid(axis='x', which='both', **gl)
ax.grid(axis='y', which='major', **gl)
ax.set_axisbelow(True)

ax.tick_params(axis='y', colors='white', labelsize=8, direction='out', length=4, pad=2)
ax.tick_params(axis='x', which='both', colors='white', labelsize=8, direction='in',
               top=True, length=4, pad=4)
ax2.tick_params(axis='y', which='both', colors='white', labelsize=8, direction='in',
                length=5, pad=6)
for a in (ax, ax2):
    for s in a.spines.values():
        s.set_color('#d8d8d8')

fig.text(132 / 850, 1 - 295 / 620, '850 hPa Temp. (°C)', color='white', fontsize=7.5,
         rotation=90, ha='center', va='center')
fig.text(840 / 850, 1 - 295 / 620, 'Neerslag (mm)', color='white', fontsize=7.5,
         rotation=90, ha='center', va='center')
fig.text(486 / 850, 1 - 589 / 620, 'Date (UTC)', color='white', fontsize=7.5,
         ha='center', va='center')

fig.text(436 / 850, 1 - 12 / 620,
         'Brussels  (BE)  850 hPa Temp. & Neerslag | Wed, 19Aug2026 00Z',
         color='white', fontsize=12.7, fontweight='bold', fontstretch='condensed',
         ha='center', va='center')
fig.text(120 / 850, 1 - 598 / 620, 'GFS Ensemble, 51N, 4.5E', color='white',
         fontsize=11.5, ha='left', va='center')
fig.text(793 / 850, 1 - 598 / 620, 'Wetterzentrale.de', color='white',
         fontsize=11.5, ha='right', va='center')


def leg(x0, x1, y, color, label):
    fig.add_artist(Line2D([x0 / 850, x1 / 850], [1 - y / 620, 1 - y / 620],
                          color=color, lw=1.5, transform=fig.transFigure))
    fig.text((x1 + 1) / 850, 1 - y / 620, label, color='white', fontsize=8,
             ha='left', va='center')


for i, (name, c) in enumerate(zip(member_names, member_colors)):
    row, col = divmod(i, 2)
    y = 40 + row * 15
    if col == 0:
        leg(0, 8, y, c, name)
    else:
        leg(53, 63, y, c, name)
leg(0, 8, 265, c_ctrl, 'Control')
leg(53, 63, 265, 'white', 'Ens. mean')
leg(53, 63, 293, c_clim, '1991-2020\nmean')
leg(0, 8, 306, c_oper, 'Oper')

fig.savefig('out.png', dpi=100, facecolor='black')
